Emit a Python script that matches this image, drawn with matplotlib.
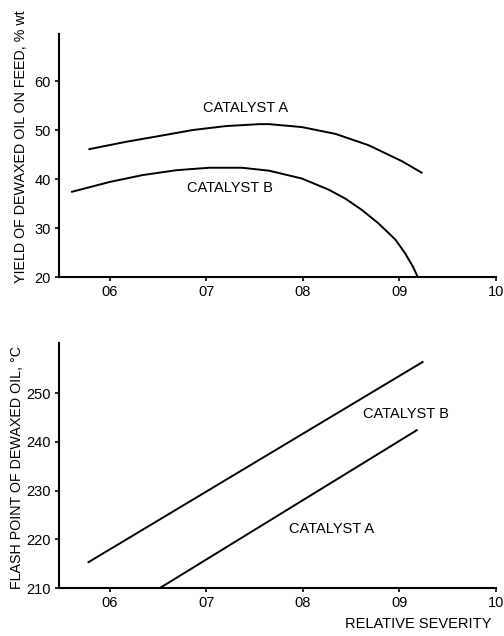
import matplotlib
matplotlib.use("Agg")
import matplotlib.pyplot as plt

plt.rcParams['font.family'] = ['Liberation Sans', 'DejaVu Sans']

# ---- data ----
severity_ticks = [0.6, 0.7, 0.8, 0.9, 1.0]
severity_labels = ["06", "07", "08", "09", "10"]

yield_ticks = [20, 30, 40, 50, 60]
flash_ticks = [210, 220, 230, 240, 250]

yield_a_x = [0.579, 0.617, 0.652, 0.686, 0.720, 0.755, 0.765, 0.799, 0.834, 0.868, 0.902, 0.923]
yield_a_y = [46.1, 47.6, 48.8, 50.0, 50.8, 51.2, 51.2, 50.6, 49.2, 46.9, 43.7, 41.3]

yield_b_x = [0.561, 0.600, 0.634, 0.669, 0.703, 0.737, 0.765, 0.799, 0.827, 0.844,
             0.861, 0.878, 0.896, 0.906, 0.914, 0.919]
yield_b_y = [37.4, 39.4, 40.8, 41.8, 42.3, 42.3, 41.7, 40.1, 37.8, 36.0,
             33.7, 31.0, 27.6, 24.8, 22.1, 20.0]

flash_b_x = [0.578, 0.924]
flash_b_y = [215.3, 256.4]

flash_a_x = [0.652, 0.918]
flash_a_y = [210.0, 242.4]

W, H = 504, 636
fig = plt.figure(figsize=(W / 100, H / 100), dpi=100)

def ax_rect(left, top, right, bottom):
    return [left / W, 1 - bottom / H, (right - left) / W, (bottom - top) / H]

fs = 10.5
lfs = 10.3

def style(ax):
    for s in ['top', 'right']:
        ax.spines[s].set_visible(False)
    for s in ['left', 'bottom']:
        ax.spines[s].set_linewidth(1.5)
    ax.tick_params(direction='out', length=3, width=1.2, labelsize=fs, pad=3)
    ax.set_xticks(severity_ticks)
    ax.set_xticklabels(severity_labels)
    ax.set_xlim(0.5475, 1.0)

# top panel
ax1 = fig.add_axes(ax_rect(59, 34, 496, 277))
style(ax1)
ax1.plot(yield_a_x, yield_a_y, color='black', lw=1.4, solid_joinstyle='round')
ax1.plot(yield_b_x, yield_b_y, color='black', lw=1.4, solid_joinstyle='round')
ax1.set_ylim(20, 69.6)
ax1.set_yticks(yield_ticks)
ax1.text(0.741, 54.5, "CATALYST A", ha='center', va='center', fontsize=fs)
ax1.text(0.725, 38.2, "CATALYST B", ha='center', va='center', fontsize=fs)
ax1.set_ylabel("YIELD OF DEWAXED OIL ON FEED, % wt", fontsize=lfs)
ax1.yaxis.set_label_coords(-0.072, 0.537)

# bottom panel
ax2 = fig.add_axes(ax_rect(59, 343, 496, 588))
style(ax2)
ax2.plot(flash_b_x, flash_b_y, color='black', lw=1.4)
ax2.plot(flash_a_x, flash_a_y, color='black', lw=1.4)
ax2.set_ylim(210, 260.3)
ax2.set_yticks(flash_ticks)
ax2.text(0.907, 245.7, "CATALYST B", ha='center', va='center', fontsize=fs)
ax2.text(0.830, 222.1, "CATALYST A", ha='center', va='center', fontsize=fs)
ax2.set_ylabel("FLASH POINT OF DEWAXED OIL, \u00b0C", fontsize=lfs)
ax2.yaxis.set_label_coords(-0.079, 0.49)
ax2.set_xlabel("RELATIVE SEVERITY", fontsize=fs, ha='right')
ax2.xaxis.set_label_coords(0.9886, -0.118)

fig.savefig("out.png", dpi=100)
